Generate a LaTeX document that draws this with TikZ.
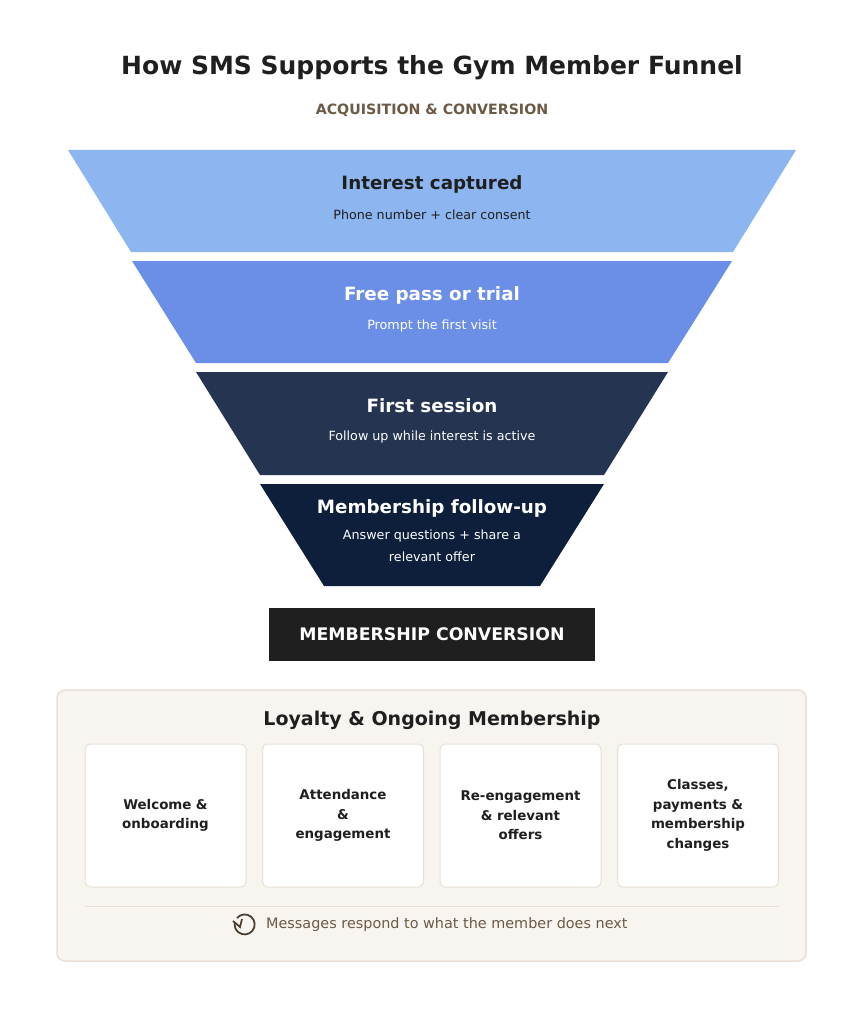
\documentclass[tikz,border=0pt]{standalone}
\usepackage{fontspec}
\setmainfont{DejaVu Sans}
\usetikzlibrary{positioning}
\definecolor{tierA}{HTML}{8DB5EF}
\definecolor{tierB}{HTML}{6B8FE6}
\definecolor{tierC}{HTML}{243451}
\definecolor{tierD}{HTML}{0E1F3B}
\definecolor{ink}{HTML}{1F1F1F}
\definecolor{brownish}{HTML}{6B5A45}
\definecolor{panelFill}{HTML}{F8F5F0}
\definecolor{panelLine}{HTML}{E8E0D4}
\begin{document}
\begin{tikzpicture}[x=1pt,y=-1pt,
head/.style={font=\fontsize{18.3}{21}\selectfont\bfseries},
sub/.style={font=\fontsize{12.7}{21.5}\selectfont,align=center},
card/.style={draw=panelLine,fill=white,rounded corners=5pt,line width=1pt,minimum width=161pt,minimum height=143pt,font=\fontsize{13.4}{19.5}\selectfont\bfseries,text=ink,align=center,text width=140pt}
]
\useasboundingbox[fill=white] (0,0) rectangle (864,1024);
\node[font=\fontsize{25}{28}\selectfont\bfseries,text=ink] (title) at (432,68) {How SMS Supports the Gym Member Funnel};
\node[font=\fontsize{14.2}{16}\selectfont\bfseries,text=brownish] (subtitle) at (432,110) {ACQUISITION \& CONVERSION};
% funnel tiers
\fill[tierA] (68,150) -- (796,150) -- (733,252) -- (131,252) -- cycle;
\fill[tierB] (132,261) -- (732,261) -- (668,363) -- (196,363) -- cycle;
\fill[tierC] (196,372) -- (668,372) -- (604,475) -- (260,475) -- cycle;
\fill[tierD] (260,484) -- (604,484) -- (540,586) -- (324,586) -- cycle;
\node[head,text=ink] (interest) at (432,184) {Interest captured};
\node[sub,text=ink] (interestSub) at (432,215) {Phone number + clear consent};
\node[head,text=white] (trial) at (432,295) {Free pass or trial};
\node[sub,text=white] (trialSub) at (432,326) {Prompt the first visit};
\node[head,text=white] (session) at (432,406) {First session};
\node[sub,text=white] (sessionSub) at (432,437) {Follow up while interest is active};
\node[head,text=white] (follow) at (432,508) {Membership follow-up};
\node[sub,text=white] (followSub) at (432,546) {Answer questions + share a\\relevant offer};
% conversion
\node[fill=ink,text=white,minimum width=326pt,minimum height=53pt,font=\fontsize{17.3}{19}\selectfont\bfseries] (conversion) at (432,634.5) {MEMBERSHIP CONVERSION};
% loyalty panel
\draw[panelLine,fill=panelFill,line width=1.5pt,rounded corners=8pt] (57,690) rectangle (806,961);
\node[font=\fontsize{19}{22}\selectfont\bfseries,text=ink] (loyalty) at (432,720) {Loyalty \& Ongoing Membership};
\node[card] (welcome) at (165.5,815.5) {Welcome \&\\onboarding};
\node[card] (attend) at (343,815.5) {Attendance\\\&\\engagement};
\node[card] (reengage) at (520.5,815.5) {Re-engagement\\\& relevant\\offers};
\node[card] (classes) at (698,815.5) {Classes,\\payments \&\\membership\\changes};
\draw[panelLine,line width=1pt] (85,906) -- (779,906);
\node[font=\fontsize{14.4}{16}\selectfont,text=brownish,anchor=west,inner sep=0pt] (loop) at (266,925) {Messages respond to what the member does next};
\draw[brownish!70!black,line width=1.8pt] (237,918) arc[start angle=140,end angle=-190,radius=10pt];
\draw[brownish!70!black,line width=1.8pt] (233,921) -- (240,927) -- (242,919);
\end{tikzpicture}
\end{document}
